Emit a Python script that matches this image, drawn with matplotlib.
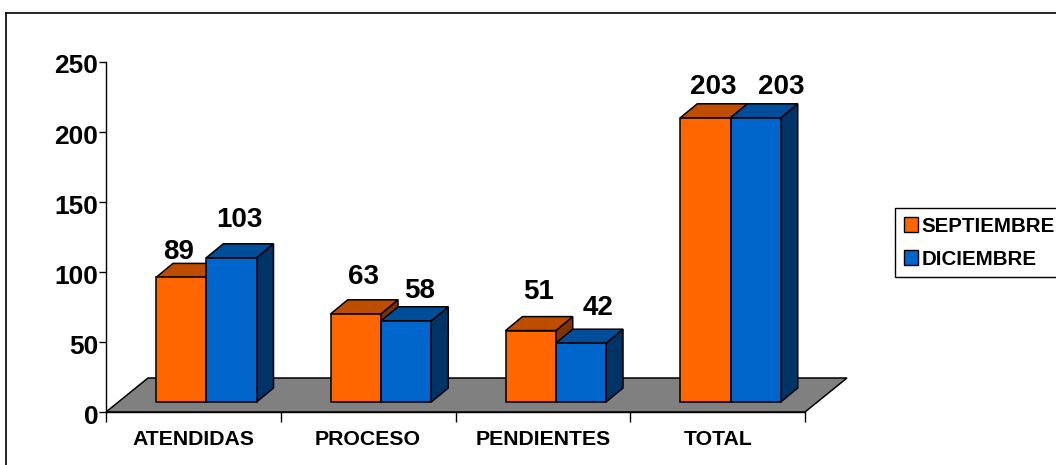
import matplotlib
matplotlib.use('Agg')
import matplotlib.pyplot as plt
from matplotlib.lines import Line2D
from matplotlib.patches import Patch, Polygon
from matplotlib.transforms import ScaledTranslation

categories = ['ATENDIDAS', 'PROCESO', 'PENDIENTES', 'TOTAL']
septiembre = [89, 63, 51, 203]
diciembre = [103, 58, 42, 203]
y_ticks = [0, 50, 100, 150, 200, 250]

W, H = 1056, 465
plt.rcParams['font.family'] = ['Liberation Sans', 'DejaVu Sans']
plt.rcParams['font.weight'] = 'bold'

fig = plt.figure(figsize=(W / 100, H / 100), dpi=100, facecolor='white')
ax = fig.add_axes([106 / W, 1 - 412 / H, 699 / W, 350 / H])
ax.set_xlim(0, 4)
ax.set_ylim(0, 250)
ax.patch.set_visible(False)

# pixel sizes in data units
px = 4 / 699
py = 250 / 350
depth_x = 17 * px
depth_y = 14 * py
base = 10 * py
bar_w = 50.25 * px
first = 50 * px


def poly(points, color, z):
    ax.add_patch(Polygon(points, closed=True, facecolor=color, edgecolor='black',
                         linewidth=1.1, joinstyle='miter', clip_on=False, zorder=z))


def bar3d(x, val, front, top, side, z):
    t = base + val
    poly([(x + bar_w, base), (x + bar_w + depth_x, base + depth_y),
          (x + bar_w + depth_x, t + depth_y), (x + bar_w, t)], side, z)
    poly([(x, t), (x + depth_x, t + depth_y), (x + bar_w + depth_x, t + depth_y), (x + bar_w, t)], top, z)
    poly([(x, base), (x + bar_w, base), (x + bar_w, t), (x, t)], front, z)


# floor
poly([(0, 0), (4, 0), (4 + 42 * px, 34 * py), (42 * px, 34 * py)], '#808080', 1)

# label offsets from the top centre of each bar, in pixels
off_sep = [(-3, 25), (8, 37), (8, 39), (8, 31)]
off_dic = [(8, 38), (14, 30), (17, 35), (26, 31)]

for i, (a, b) in enumerate(zip(septiembre, diciembre)):
    x0 = i + first
    x1 = x0 + bar_w
    bar3d(x0, a, '#FF6600', '#BF4D00', '#803300', 2 + i)
    bar3d(x1, b, '#0066CC', '#004D99', '#003366', 2 + i)
    ax.text(x0 + bar_w / 2 + off_sep[i][0] * px, base + a + off_sep[i][1] * py, str(a),
            ha='center', va='center', fontsize=20, zorder=10)
    ax.text(x1 + bar_w / 2 + off_dic[i][0] * px, base + b + off_dic[i][1] * py, str(b),
            ha='center', va='center', fontsize=20, zorder=10)

for s in ['top', 'right']:
    ax.spines[s].set_visible(False)
for s in ['left', 'bottom']:
    ax.spines[s].set_linewidth(1)
    ax.spines[s].set_zorder(1.5)

ax.set_yticks(y_ticks)
ax.tick_params(axis='y', length=5, width=1, labelsize=19, pad=0.5)
shift = ScaledTranslation(0, -2 / 100, fig.dpi_scale_trans)
for lab in ax.get_yticklabels():
    lab.set_transform(lab.get_transform() + shift)
ax.set_xticks(range(5))
ax.set_xticklabels([])
ax.tick_params(axis='x', length=7, width=1)
for i, c in enumerate(categories):
    ax.text(i + 0.5, -27 * py, c, ha='center', va='center', fontsize=15.3, clip_on=False)

handles = [Patch(facecolor='#FF6600', edgecolor='black', label='SEPTIEMBRE'),
           Patch(facecolor='#0066CC', edgecolor='black', label='DICIEMBRE')]
fig.legend(handles=handles, loc='upper left', bbox_to_anchor=(895 / W, 1 - 208 / H),
           bbox_transform=fig.transFigure, fontsize=14.8, fancybox=False, framealpha=1,
           edgecolor='black', borderaxespad=0, handlelength=0.7, handleheight=0.7,
           handletextpad=0.18, borderpad=0.42, labelspacing=0.68)

# chart area frame, only left and top fall inside the picture
fig.add_artist(Line2D([6 / W, 6 / W], [0, 1 - 13 / H], color='black', linewidth=1.2))
fig.add_artist(Line2D([6 / W, 1], [1 - 13 / H, 1 - 13 / H], color='black', linewidth=1.2))

fig.savefig('out.png', dpi=100)
